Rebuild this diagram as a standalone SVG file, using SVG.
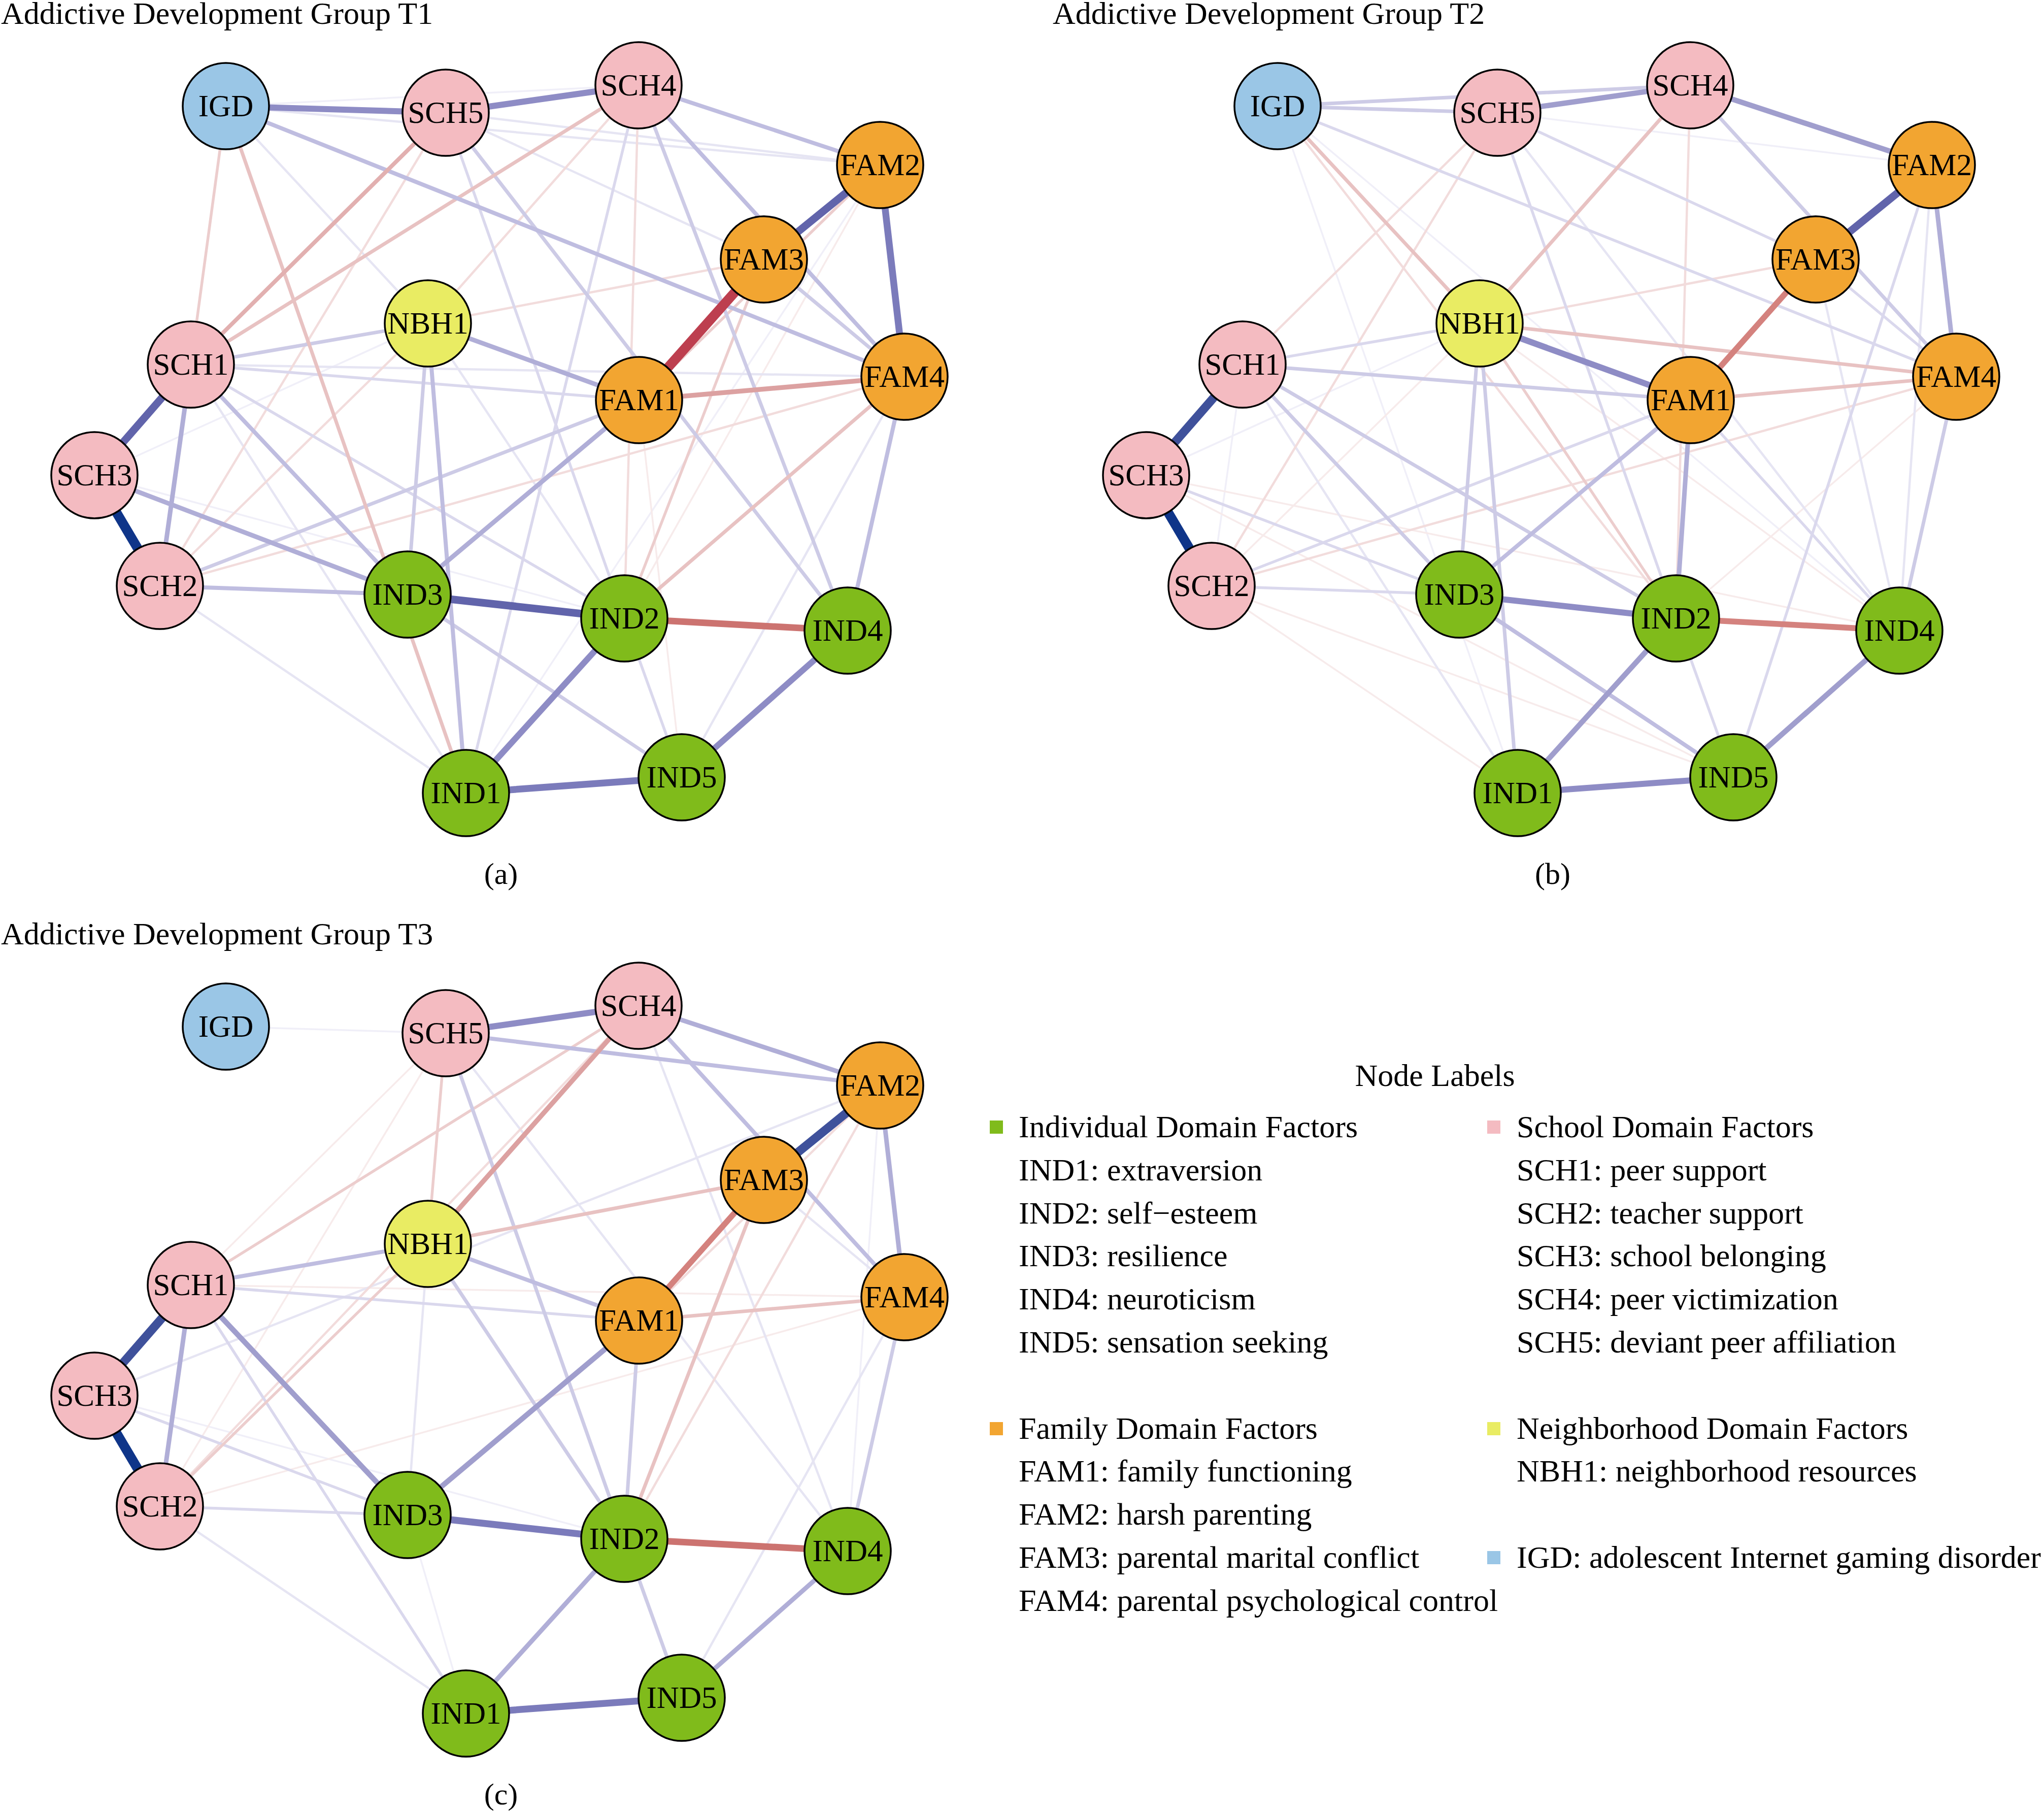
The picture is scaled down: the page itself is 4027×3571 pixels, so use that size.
<svg xmlns="http://www.w3.org/2000/svg" width="4027" height="3571" viewBox="0 0 4027 3571">
<style>
text{font-family:"Liberation Serif","Times New Roman",serif;fill:#000}
.title{font-size:62px}
.lbl{font-size:61px;text-anchor:middle}
.cap{font-size:60px;text-anchor:middle}
.leg{font-size:62px}
.legh{font-size:62px;text-anchor:middle}
circle{stroke:#000;stroke-width:3.5}
.igd{fill:#9ac6e6}.sch{fill:#f4bbc1}.fam{fill:#f2a531}.nbh{fill:#e9ec63}.ind{fill:#80bb1b}
line{stroke-linecap:round;fill:none}
.p1{stroke:#f0eff8;stroke-width:3.5}
.p2{stroke:#e6e5f3;stroke-width:4.5}
.p3{stroke:#dad8ed;stroke-width:5.5}
.p4{stroke:#cdcbe6;stroke-width:7}
.p5{stroke:#bfbde0;stroke-width:8}
.p6{stroke:#b0aed7;stroke-width:9}
.p7{stroke:#a09ecd;stroke-width:10.5}
.p8{stroke:#8e8cc5;stroke-width:12}
.p9{stroke:#7b7bbb;stroke-width:13.5}
.p10{stroke:#6164ab;stroke-width:15}
.p11{stroke:#3f519b;stroke-width:17}
.p12{stroke:#0f3589;stroke-width:19}
.n1{stroke:#f7ebeb;stroke-width:3.5}
.n2{stroke:#f2dcdc;stroke-width:4.5}
.n3{stroke:#eccdcd;stroke-width:5.5}
.n4{stroke:#e8c2c2;stroke-width:7}
.n5{stroke:#e2b0b0;stroke-width:8}
.n6{stroke:#dca1a1;stroke-width:9.5}
.n7{stroke:#d4827e;stroke-width:11.5}
.n8{stroke:#cc7370;stroke-width:13}
.n9{stroke:#bd3f4f;stroke-width:19}
</style>
<rect width="4027" height="3571" fill="#fff"/>

<!-- Panel A -->
<g id="panel-a">
<text class="title" x="2" y="47">Addictive Development Group T1</text>
<g id="a-edges">
<line class="p1" x1="445" y1="209" x2="1258" y2="168"/>
<line class="p1" x1="186" y1="936" x2="1230" y2="1218"/>
<line class="p1" x1="918" y1="1562" x2="1734" y2="325"/>
<line class="p1" x1="186" y1="936" x2="843" y2="637"/>
<line class="n1" x1="1734" y1="325" x2="1230" y2="1218"/>
<line class="n1" x1="1259" y1="788" x2="1343" y2="1531"/>
<line class="p2" x1="878" y1="222" x2="1505" y2="511"/>
<line class="p2" x1="878" y1="222" x2="1734" y2="325"/>
<line class="p2" x1="445" y1="209" x2="1734" y2="325"/>
<line class="p2" x1="445" y1="209" x2="843" y2="637"/>
<line class="p2" x1="376" y1="718" x2="918" y2="1562"/>
<line class="p2" x1="315" y1="1154" x2="918" y2="1562"/>
<line class="p2" x1="376" y1="718" x2="1782" y2="742"/>
<line class="p2" x1="1782" y1="742" x2="1343" y2="1531"/>
<line class="p2" x1="843" y1="637" x2="1230" y2="1218"/>
<line class="n2" x1="843" y1="637" x2="1505" y2="511"/>
<line class="n2" x1="1782" y1="742" x2="315" y2="1154"/>
<line class="n2" x1="1258" y1="168" x2="843" y2="637"/>
<line class="n2" x1="878" y1="222" x2="315" y2="1154"/>
<line class="n2" x1="843" y1="637" x2="315" y2="1154"/>
<line class="n2" x1="1258" y1="168" x2="1230" y2="1218"/>
<line class="p3" x1="878" y1="222" x2="1230" y2="1218"/>
<line class="p3" x1="1258" y1="168" x2="918" y2="1562"/>
<line class="p3" x1="1230" y1="1218" x2="1343" y2="1531"/>
<line class="p3" x1="376" y1="718" x2="1259" y2="788"/>
<line class="p3" x1="376" y1="718" x2="1230" y2="1218"/>
<line class="n3" x1="445" y1="209" x2="376" y2="718"/>
<line class="n3" x1="1505" y1="511" x2="1230" y2="1218"/>
<line class="n3" x1="1734" y1="325" x2="1259" y2="788"/>
<line class="p4" x1="1505" y1="511" x2="1782" y2="742"/>
<line class="p4" x1="376" y1="718" x2="843" y2="637"/>
<line class="p4" x1="843" y1="637" x2="803" y2="1171"/>
<line class="p4" x1="878" y1="222" x2="1670" y2="1242"/>
<line class="p4" x1="1258" y1="168" x2="1670" y2="1242"/>
<line class="p4" x1="803" y1="1171" x2="1343" y2="1531"/>
<line class="p4" x1="1259" y1="788" x2="315" y2="1154"/>
<line class="n4" x1="1782" y1="742" x2="1230" y2="1218"/>
<line class="n4" x1="376" y1="718" x2="1258" y2="168"/>
<line class="n4" x1="445" y1="209" x2="918" y2="1562"/>
<line class="p5" x1="1258" y1="168" x2="1782" y2="742"/>
<line class="p5" x1="1258" y1="168" x2="1734" y2="325"/>
<line class="p5" x1="445" y1="209" x2="1782" y2="742"/>
<line class="p5" x1="315" y1="1154" x2="803" y2="1171"/>
<line class="p5" x1="376" y1="718" x2="803" y2="1171"/>
<line class="p5" x1="843" y1="637" x2="918" y2="1562"/>
<line class="p5" x1="1782" y1="742" x2="1670" y2="1242"/>
<line class="n5" x1="376" y1="718" x2="878" y2="222"/>
<line class="p6" x1="843" y1="637" x2="1259" y2="788"/>
<line class="p6" x1="376" y1="718" x2="315" y2="1154"/>
<line class="p6" x1="186" y1="936" x2="803" y2="1171"/>
<line class="p6" x1="1259" y1="788" x2="803" y2="1171"/>
<line class="n6" x1="1259" y1="788" x2="1782" y2="742"/>
<line class="p8" x1="445" y1="209" x2="878" y2="222"/>
<line class="p8" x1="878" y1="222" x2="1258" y2="168"/>
<line class="p8" x1="1230" y1="1218" x2="918" y2="1562"/>
<line class="p8" x1="1343" y1="1531" x2="1670" y2="1242"/>
<line class="p9" x1="1734" y1="325" x2="1782" y2="742"/>
<line class="p9" x1="918" y1="1562" x2="1343" y2="1531"/>
<line class="n8" x1="1230" y1="1218" x2="1670" y2="1242"/>
<line class="p10" x1="376" y1="718" x2="186" y2="936"/>
<line class="p10" x1="1734" y1="325" x2="1505" y2="511"/>
<line class="p10" x1="803" y1="1171" x2="1230" y2="1218"/>
<line class="n9" x1="1505" y1="511" x2="1259" y2="788"/>
<line class="p12" x1="186" y1="936" x2="315" y2="1154"/>
</g>
<g id="a-IGD"><circle class="igd" cx="445" cy="209" r="85"/><text class="lbl" x="445" y="229">IGD</text></g>
<g id="a-SCH5"><circle class="sch" cx="878" cy="222" r="85"/><text class="lbl" x="878" y="242">SCH5</text></g>
<g id="a-SCH4"><circle class="sch" cx="1258" cy="168" r="85"/><text class="lbl" x="1258" y="188">SCH4</text></g>
<g id="a-FAM2"><circle class="fam" cx="1734" cy="325" r="85"/><text class="lbl" x="1734" y="345">FAM2</text></g>
<g id="a-FAM3"><circle class="fam" cx="1505" cy="511" r="85"/><text class="lbl" x="1505" y="531">FAM3</text></g>
<g id="a-NBH1"><circle class="nbh" cx="843" cy="637" r="85"/><text class="lbl" x="843" y="657">NBH1</text></g>
<g id="a-SCH1"><circle class="sch" cx="376" cy="718" r="85"/><text class="lbl" x="376" y="738">SCH1</text></g>
<g id="a-FAM1"><circle class="fam" cx="1259" cy="788" r="85"/><text class="lbl" x="1259" y="808">FAM1</text></g>
<g id="a-FAM4"><circle class="fam" cx="1782" cy="742" r="85"/><text class="lbl" x="1782" y="762">FAM4</text></g>
<g id="a-SCH3"><circle class="sch" cx="186" cy="936" r="85"/><text class="lbl" x="186" y="956">SCH3</text></g>
<g id="a-SCH2"><circle class="sch" cx="315" cy="1154" r="85"/><text class="lbl" x="315" y="1174">SCH2</text></g>
<g id="a-IND3"><circle class="ind" cx="803" cy="1171" r="85"/><text class="lbl" x="803" y="1191">IND3</text></g>
<g id="a-IND2"><circle class="ind" cx="1230" cy="1218" r="85"/><text class="lbl" x="1230" y="1238">IND2</text></g>
<g id="a-IND4"><circle class="ind" cx="1670" cy="1242" r="85"/><text class="lbl" x="1670" y="1262">IND4</text></g>
<g id="a-IND5"><circle class="ind" cx="1343" cy="1531" r="85"/><text class="lbl" x="1343" y="1551">IND5</text></g>
<g id="a-IND1"><circle class="ind" cx="918" cy="1562" r="85"/><text class="lbl" x="918" y="1582">IND1</text></g>
<text class="cap" x="987" y="1741">(a)</text>
</g>

<!-- Panel B -->
<g id="panel-b" transform="translate(2072,0)">
<text class="title" x="2" y="47">Addictive Development Group T2</text>
<g id="b-edges">
<line class="p1" x1="878" y1="222" x2="1734" y2="325"/>
<line class="p1" x1="445" y1="209" x2="1670" y2="1242"/>
<line class="p1" x1="445" y1="209" x2="918" y2="1562"/>
<line class="p1" x1="186" y1="936" x2="843" y2="637"/>
<line class="p1" x1="376" y1="718" x2="315" y2="1154"/>
<line class="n1" x1="186" y1="936" x2="1670" y2="1242"/>
<line class="n1" x1="315" y1="1154" x2="1343" y2="1531"/>
<line class="n1" x1="186" y1="936" x2="1343" y2="1531"/>
<line class="n1" x1="1782" y1="742" x2="1230" y2="1218"/>
<line class="n1" x1="843" y1="637" x2="1670" y2="1242"/>
<line class="n1" x1="315" y1="1154" x2="918" y2="1562"/>
<line class="n1" x1="843" y1="637" x2="315" y2="1154"/>
<line class="p2" x1="376" y1="718" x2="918" y2="1562"/>
<line class="p2" x1="878" y1="222" x2="1670" y2="1242"/>
<line class="p2" x1="1505" y1="511" x2="1670" y2="1242"/>
<line class="p2" x1="1734" y1="325" x2="1670" y2="1242"/>
<line class="n2" x1="315" y1="1154" x2="1782" y2="742"/>
<line class="n2" x1="445" y1="209" x2="1230" y2="1218"/>
<line class="n2" x1="878" y1="222" x2="376" y2="718"/>
<line class="n2" x1="878" y1="222" x2="315" y2="1154"/>
<line class="n2" x1="1258" y1="168" x2="1230" y2="1218"/>
<line class="n2" x1="843" y1="637" x2="1505" y2="511"/>
<line class="p3" x1="1230" y1="1218" x2="1343" y2="1531"/>
<line class="p3" x1="1734" y1="325" x2="1343" y2="1531"/>
<line class="p3" x1="376" y1="718" x2="843" y2="637"/>
<line class="p3" x1="315" y1="1154" x2="803" y2="1171"/>
<line class="p3" x1="186" y1="936" x2="803" y2="1171"/>
<line class="p3" x1="315" y1="1154" x2="1259" y2="788"/>
<line class="p3" x1="445" y1="209" x2="1782" y2="742"/>
<line class="p3" x1="878" y1="222" x2="1230" y2="1218"/>
<line class="p3" x1="878" y1="222" x2="1505" y2="511"/>
<line class="p3" x1="1505" y1="511" x2="1782" y2="742"/>
<line class="p3" x1="1259" y1="788" x2="1670" y2="1242"/>
<line class="n3" x1="843" y1="637" x2="1230" y2="1218"/>
<line class="p4" x1="445" y1="209" x2="878" y2="222"/>
<line class="p4" x1="445" y1="209" x2="1258" y2="168"/>
<line class="p4" x1="1782" y1="742" x2="1670" y2="1242"/>
<line class="p4" x1="376" y1="718" x2="1259" y2="788"/>
<line class="p4" x1="376" y1="718" x2="803" y2="1171"/>
<line class="p4" x1="376" y1="718" x2="1230" y2="1218"/>
<line class="p4" x1="843" y1="637" x2="918" y2="1562"/>
<line class="p4" x1="843" y1="637" x2="803" y2="1171"/>
<line class="p4" x1="1258" y1="168" x2="1782" y2="742"/>
<line class="n4" x1="1258" y1="168" x2="843" y2="637"/>
<line class="n4" x1="843" y1="637" x2="1782" y2="742"/>
<line class="n4" x1="1259" y1="788" x2="1782" y2="742"/>
<line class="n4" x1="445" y1="209" x2="843" y2="637"/>
<line class="p5" x1="803" y1="1171" x2="1343" y2="1531"/>
<line class="p5" x1="1259" y1="788" x2="803" y2="1171"/>
<line class="p6" x1="1734" y1="325" x2="1782" y2="742"/>
<line class="p6" x1="1259" y1="788" x2="1230" y2="1218"/>
<line class="p7" x1="878" y1="222" x2="1258" y2="168"/>
<line class="p7" x1="1258" y1="168" x2="1734" y2="325"/>
<line class="p7" x1="1230" y1="1218" x2="918" y2="1562"/>
<line class="p7" x1="1343" y1="1531" x2="1670" y2="1242"/>
<line class="n7" x1="1505" y1="511" x2="1259" y2="788"/>
<line class="n7" x1="1230" y1="1218" x2="1670" y2="1242"/>
<line class="p8" x1="803" y1="1171" x2="1230" y2="1218"/>
<line class="p8" x1="918" y1="1562" x2="1343" y2="1531"/>
<line class="p8" x1="843" y1="637" x2="1259" y2="788"/>
<line class="p10" x1="1734" y1="325" x2="1505" y2="511"/>
<line class="p11" x1="376" y1="718" x2="186" y2="936"/>
<line class="p12" x1="186" y1="936" x2="315" y2="1154"/>
</g>
<g id="b-IGD"><circle class="igd" cx="445" cy="209" r="85"/><text class="lbl" x="445" y="229">IGD</text></g>
<g id="b-SCH5"><circle class="sch" cx="878" cy="222" r="85"/><text class="lbl" x="878" y="242">SCH5</text></g>
<g id="b-SCH4"><circle class="sch" cx="1258" cy="168" r="85"/><text class="lbl" x="1258" y="188">SCH4</text></g>
<g id="b-FAM2"><circle class="fam" cx="1734" cy="325" r="85"/><text class="lbl" x="1734" y="345">FAM2</text></g>
<g id="b-FAM3"><circle class="fam" cx="1505" cy="511" r="85"/><text class="lbl" x="1505" y="531">FAM3</text></g>
<g id="b-NBH1"><circle class="nbh" cx="843" cy="637" r="85"/><text class="lbl" x="843" y="657">NBH1</text></g>
<g id="b-SCH1"><circle class="sch" cx="376" cy="718" r="85"/><text class="lbl" x="376" y="738">SCH1</text></g>
<g id="b-FAM1"><circle class="fam" cx="1259" cy="788" r="85"/><text class="lbl" x="1259" y="808">FAM1</text></g>
<g id="b-FAM4"><circle class="fam" cx="1782" cy="742" r="85"/><text class="lbl" x="1782" y="762">FAM4</text></g>
<g id="b-SCH3"><circle class="sch" cx="186" cy="936" r="85"/><text class="lbl" x="186" y="956">SCH3</text></g>
<g id="b-SCH2"><circle class="sch" cx="315" cy="1154" r="85"/><text class="lbl" x="315" y="1174">SCH2</text></g>
<g id="b-IND3"><circle class="ind" cx="803" cy="1171" r="85"/><text class="lbl" x="803" y="1191">IND3</text></g>
<g id="b-IND2"><circle class="ind" cx="1230" cy="1218" r="85"/><text class="lbl" x="1230" y="1238">IND2</text></g>
<g id="b-IND4"><circle class="ind" cx="1670" cy="1242" r="85"/><text class="lbl" x="1670" y="1262">IND4</text></g>
<g id="b-IND5"><circle class="ind" cx="1343" cy="1531" r="85"/><text class="lbl" x="1343" y="1551">IND5</text></g>
<g id="b-IND1"><circle class="ind" cx="918" cy="1562" r="85"/><text class="lbl" x="918" y="1582">IND1</text></g>
<text class="cap" x="987" y="1741">(b)</text>
</g>

<!-- Panel C -->
<g id="panel-c" transform="translate(0,1813)">
<text class="title" x="2" y="47">Addictive Development Group T3</text>
<g id="c-edges">
<line class="p1" x1="186" y1="936" x2="1230" y2="1218"/>
<line class="p1" x1="445" y1="209" x2="878" y2="222"/>
<line class="p1" x1="1734" y1="325" x2="1670" y2="1242"/>
<line class="p1" x1="803" y1="1171" x2="918" y2="1562"/>
<line class="n1" x1="878" y1="222" x2="376" y2="718"/>
<line class="n1" x1="376" y1="718" x2="1782" y2="742"/>
<line class="n1" x1="315" y1="1154" x2="1782" y2="742"/>
<line class="n1" x1="878" y1="222" x2="315" y2="1154"/>
<line class="p2" x1="315" y1="1154" x2="918" y2="1562"/>
<line class="p2" x1="186" y1="936" x2="1734" y2="325"/>
<line class="p2" x1="843" y1="637" x2="803" y2="1171"/>
<line class="p2" x1="878" y1="222" x2="1670" y2="1242"/>
<line class="p2" x1="1258" y1="168" x2="1670" y2="1242"/>
<line class="p2" x1="1782" y1="742" x2="1343" y2="1531"/>
<line class="p2" x1="1505" y1="511" x2="1782" y2="742"/>
<line class="n2" x1="1258" y1="168" x2="315" y2="1154"/>
<line class="n2" x1="1734" y1="325" x2="1230" y2="1218"/>
<line class="n2" x1="1734" y1="325" x2="1259" y2="788"/>
<line class="p3" x1="315" y1="1154" x2="803" y2="1171"/>
<line class="p3" x1="376" y1="718" x2="918" y2="1562"/>
<line class="p3" x1="376" y1="718" x2="1259" y2="788"/>
<line class="p3" x1="186" y1="936" x2="803" y2="1171"/>
<line class="n3" x1="1258" y1="168" x2="376" y2="718"/>
<line class="n3" x1="843" y1="637" x2="315" y2="1154"/>
<line class="n3" x1="878" y1="222" x2="843" y2="637"/>
<line class="p4" x1="843" y1="637" x2="1230" y2="1218"/>
<line class="p4" x1="1259" y1="788" x2="1230" y2="1218"/>
<line class="p4" x1="878" y1="222" x2="1230" y2="1218"/>
<line class="p4" x1="1230" y1="1218" x2="1343" y2="1531"/>
<line class="p4" x1="1782" y1="742" x2="1670" y2="1242"/>
<line class="n4" x1="843" y1="637" x2="1505" y2="511"/>
<line class="n4" x1="1259" y1="788" x2="1782" y2="742"/>
<line class="n4" x1="1505" y1="511" x2="1230" y2="1218"/>
<line class="p5" x1="878" y1="222" x2="1734" y2="325"/>
<line class="p5" x1="1258" y1="168" x2="1782" y2="742"/>
<line class="p5" x1="843" y1="637" x2="376" y2="718"/>
<line class="p5" x1="843" y1="637" x2="1259" y2="788"/>
<line class="n6" x1="1258" y1="168" x2="843" y2="637"/>
<line class="p6" x1="1734" y1="325" x2="1782" y2="742"/>
<line class="p6" x1="1258" y1="168" x2="1734" y2="325"/>
<line class="p6" x1="376" y1="718" x2="315" y2="1154"/>
<line class="p6" x1="1230" y1="1218" x2="918" y2="1562"/>
<line class="p6" x1="1343" y1="1531" x2="1670" y2="1242"/>
<line class="p7" x1="803" y1="1171" x2="1259" y2="788"/>
<line class="p7" x1="376" y1="718" x2="803" y2="1171"/>
<line class="n7" x1="1505" y1="511" x2="1259" y2="788"/>
<line class="p8" x1="878" y1="222" x2="1258" y2="168"/>
<line class="n8" x1="1230" y1="1218" x2="1670" y2="1242"/>
<line class="p9" x1="803" y1="1171" x2="1230" y2="1218"/>
<line class="p9" x1="918" y1="1562" x2="1343" y2="1531"/>
<line class="p11" x1="376" y1="718" x2="186" y2="936"/>
<line class="p11" x1="1734" y1="325" x2="1505" y2="511"/>
<line class="p12" x1="186" y1="936" x2="315" y2="1154"/>
</g>
<g id="c-IGD"><circle class="igd" cx="445" cy="209" r="85"/><text class="lbl" x="445" y="229">IGD</text></g>
<g id="c-SCH5"><circle class="sch" cx="878" cy="222" r="85"/><text class="lbl" x="878" y="242">SCH5</text></g>
<g id="c-SCH4"><circle class="sch" cx="1258" cy="168" r="85"/><text class="lbl" x="1258" y="188">SCH4</text></g>
<g id="c-FAM2"><circle class="fam" cx="1734" cy="325" r="85"/><text class="lbl" x="1734" y="345">FAM2</text></g>
<g id="c-FAM3"><circle class="fam" cx="1505" cy="511" r="85"/><text class="lbl" x="1505" y="531">FAM3</text></g>
<g id="c-NBH1"><circle class="nbh" cx="843" cy="637" r="85"/><text class="lbl" x="843" y="657">NBH1</text></g>
<g id="c-SCH1"><circle class="sch" cx="376" cy="718" r="85"/><text class="lbl" x="376" y="738">SCH1</text></g>
<g id="c-FAM1"><circle class="fam" cx="1259" cy="788" r="85"/><text class="lbl" x="1259" y="808">FAM1</text></g>
<g id="c-FAM4"><circle class="fam" cx="1782" cy="742" r="85"/><text class="lbl" x="1782" y="762">FAM4</text></g>
<g id="c-SCH3"><circle class="sch" cx="186" cy="936" r="85"/><text class="lbl" x="186" y="956">SCH3</text></g>
<g id="c-SCH2"><circle class="sch" cx="315" cy="1154" r="85"/><text class="lbl" x="315" y="1174">SCH2</text></g>
<g id="c-IND3"><circle class="ind" cx="803" cy="1171" r="85"/><text class="lbl" x="803" y="1191">IND3</text></g>
<g id="c-IND2"><circle class="ind" cx="1230" cy="1218" r="85"/><text class="lbl" x="1230" y="1238">IND2</text></g>
<g id="c-IND4"><circle class="ind" cx="1670" cy="1242" r="85"/><text class="lbl" x="1670" y="1262">IND4</text></g>
<g id="c-IND5"><circle class="ind" cx="1343" cy="1531" r="85"/><text class="lbl" x="1343" y="1551">IND5</text></g>
<g id="c-IND1"><circle class="ind" cx="918" cy="1562" r="85"/><text class="lbl" x="918" y="1582">IND1</text></g>
<text class="cap" x="987" y="1741">(c)</text>
</g>

<!-- Legend -->
<g id="legend">
<text class="legh" x="2827" y="2139">Node Labels</text>
<rect x="1950" y="2207" width="26" height="26" fill="#80bb1b"/>
<text class="leg" x="2007" y="2240">Individual Domain Factors</text>
<text class="leg" x="2007" y="2325">IND1: extraversion</text>
<text class="leg" x="2007" y="2410">IND2: self−esteem</text>
<text class="leg" x="2007" y="2494">IND3: resilience</text>
<text class="leg" x="2007" y="2579">IND4: neuroticism</text>
<text class="leg" x="2007" y="2664">IND5: sensation seeking</text>
<rect x="1950" y="2801" width="26" height="26" fill="#f2a531"/>
<text class="leg" x="2007" y="2834">Family Domain Factors</text>
<text class="leg" x="2007" y="2918">FAM1: family functioning</text>
<text class="leg" x="2007" y="3003">FAM2: harsh parenting</text>
<text class="leg" x="2007" y="3088">FAM3: parental marital conflict</text>
<text class="leg" x="2007" y="3173">FAM4: parental psychological control</text>
<rect x="2930" y="2207" width="26" height="26" fill="#f4bbc1"/>
<text class="leg" x="2988" y="2240">School Domain Factors</text>
<text class="leg" x="2988" y="2325">SCH1: peer support</text>
<text class="leg" x="2988" y="2410">SCH2: teacher support</text>
<text class="leg" x="2988" y="2494">SCH3: school belonging</text>
<text class="leg" x="2988" y="2579">SCH4: peer victimization</text>
<text class="leg" x="2988" y="2664">SCH5: deviant peer affiliation</text>
<rect x="2930" y="2801" width="26" height="26" fill="#e9ec63"/>
<text class="leg" x="2988" y="2834">Neighborhood Domain Factors</text>
<text class="leg" x="2988" y="2918">NBH1: neighborhood resources</text>
<rect x="2930" y="3055" width="26" height="26" fill="#9ac6e6"/>
<text class="leg" x="2988" y="3088">IGD: adolescent Internet gaming disorder</text>
</g>
</svg>
